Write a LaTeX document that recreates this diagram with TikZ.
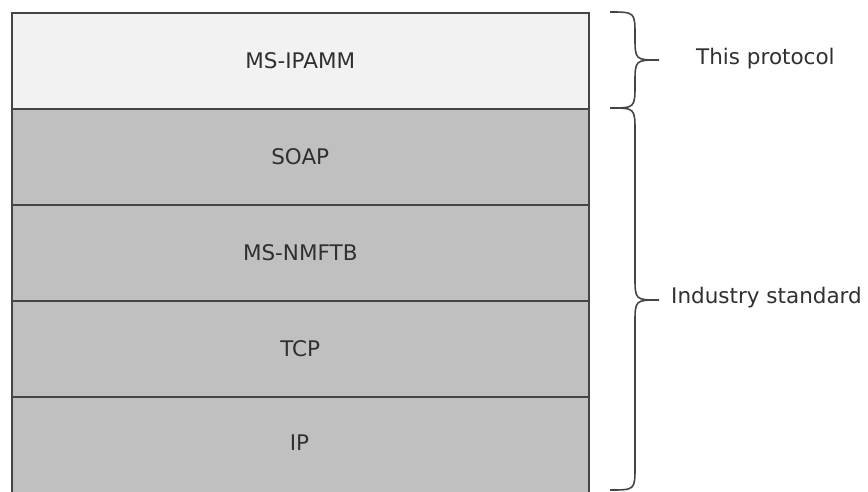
\documentclass[tikz,border=0pt]{standalone}
\usepackage{fontspec}
\setmainfont{DejaVu Sans}
\definecolor{edge}{HTML}{454545}
\definecolor{lightfill}{HTML}{F2F2F2}
\definecolor{darkfill}{HTML}{C0C0C0}
\definecolor{txt}{HTML}{303030}
\begin{document}
\begin{tikzpicture}[x=1pt,y=-1pt,
  layer/.style={draw=edge,line width=1.5pt,minimum width=577pt,minimum height=96pt,inner sep=0pt,
    font=\fontsize{21.5}{25}\selectfont,text=txt,anchor=north west},
  bracepath/.style={draw=edge,line width=1.6pt},
  lbl/.style={font=\fontsize{21.5}{25}\selectfont,text=txt,anchor=west,inner sep=0pt}]
\useasboundingbox (0,0) rectangle (868,491);
\node[layer,fill=darkfill,minimum height=100pt] (ip) at (11,396) {};
\node[text=txt,font=\fontsize{21.5}{25}\selectfont] (iplbl) at (299.5,443) {IP};
\node[layer,fill=darkfill] (tcp) at (11,300) {TCP};
\node[layer,fill=darkfill] (nmftb) at (11,204) {MS-NMFTB};
\node[layer,fill=darkfill] (soap) at (11,108) {SOAP};
\node[layer,fill=lightfill] (ipamm) at (11,12) {MS-IPAMM};
% braces
\draw[bracepath] (610,12) .. controls (635,12) .. (635,36) .. controls (635,60) .. (659,60)
  .. controls (635,60) .. (635,84) .. controls (635,108) .. (610,108);
\draw[bracepath] (610,108) .. controls (635,108) .. (635,132) -- (635,276) .. controls (635,300) .. (659,300)
  .. controls (635,300) .. (635,324) -- (635,466) .. controls (635,490) .. (610,490);
\node[lbl] (this) at (696,59) {This protocol};
\node[lbl] (ind) at (671,298) {Industry standard};
\end{tikzpicture}
\end{document}
